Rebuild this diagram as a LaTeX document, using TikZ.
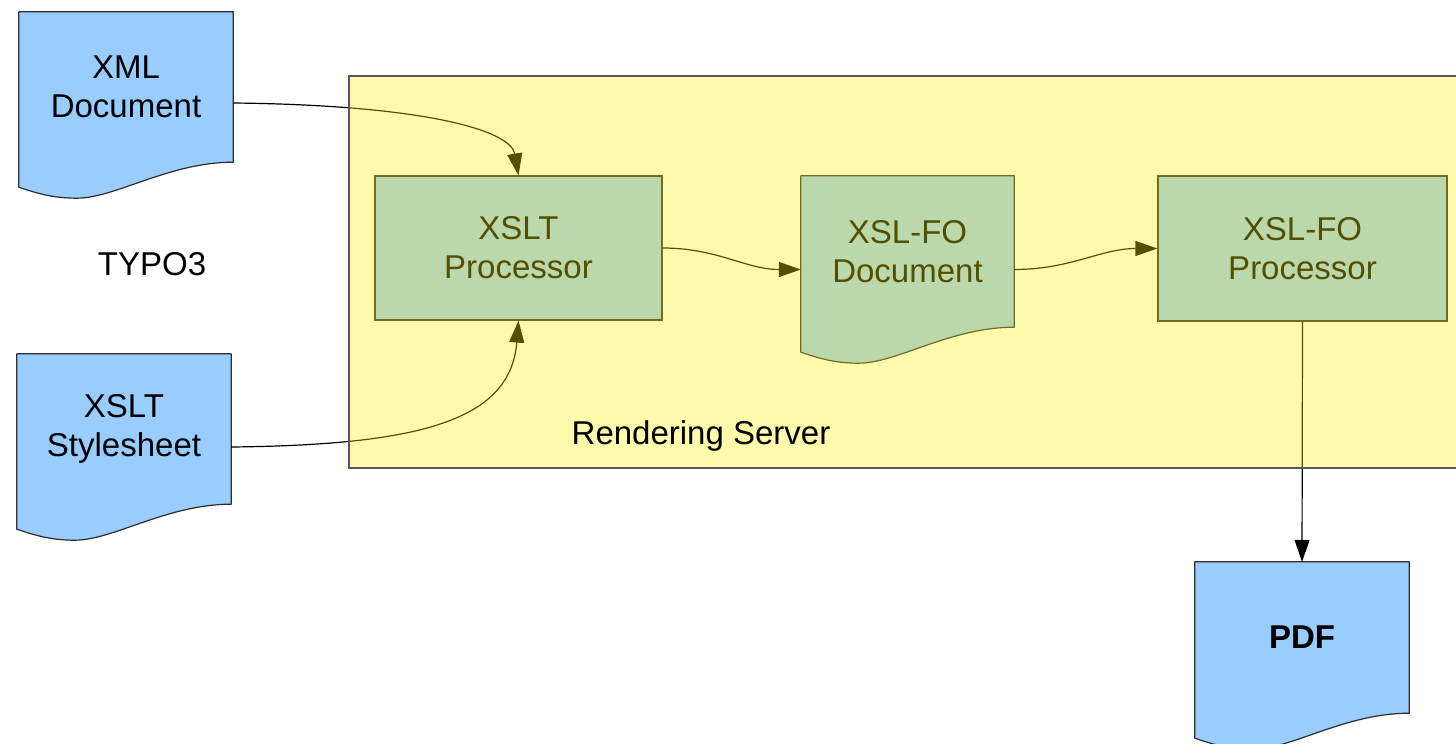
\documentclass[tikz,border=0pt]{standalone}
\usepackage{fontspec}
\setmainfont{Liberation Sans}
\usetikzlibrary{arrows.meta,calc}
\pgfdeclarelayer{docs}
\pgfdeclarelayer{front}
\pgfsetlayers{docs,main,front}
\definecolor{docblue}{RGB}{153,204,255}
\definecolor{edgegray}{RGB}{45,45,45}
\definecolor{servergray}{RGB}{85,85,85}
\tikzset{
  lbl/.style={font=\fontsize{33}{39}\selectfont, align=center, inner sep=0pt, text=black},
  docbody/.style={lbl, rectangle, draw=none},
  docshape/.style={fill=docblue, draw=edgegray, line width=1.2pt, line join=round},
  procbox/.style={lbl, rectangle, fill=docblue, draw=edgegray, line width=1.2pt},
  conn/.style={draw=black, line width=1.2pt, -{Triangle[length=22pt,width=15pt]}},
  serverbox/.style={rectangle, inner sep=0pt, fill=yellow, fill opacity=0.33, draw=servergray, draw opacity=1, line width=1.2pt}
}
\newcommand\docwave[1]{%
  \begin{pgfonlayer}{docs}
  \path[docshape] let \p1=(#1.north west), \p2=(#1.south east), \n1={\x2-\x1} in
    (\x1,\y1) -- (\x2,\y1) -- (\x2,\y2)
    .. controls ({\x2-0.3*\n1},\y2) and ({\x1+0.45*\n1},{\y2-36pt}) .. ({\x1+0.27*\n1},{\y2-36pt})
    .. controls ({\x1+0.15*\n1},{\y2-36pt}) and ({\x1+0.07*\n1},{\y2-30pt}) .. (\x1,{\y2-25pt}) -- cycle;
  \end{pgfonlayer}}
\begin{document}
\begin{tikzpicture}[x=1pt,y=-1pt]
\useasboundingbox (0,0) rectangle (1456,744);
\begin{pgfonlayer}{docs}
  \fill[white] (0,0) rectangle (1456,744);
\end{pgfonlayer}

% documents
\node[docbody, minimum width=214pt, minimum height=150pt] (xml) at (126,87) {XML\\Document};
\docwave{xml}
\node[docbody, minimum width=214pt, minimum height=150pt] (xsl) at (124,429) {XSLT\\Stylesheet};
\docwave{xsl}
\node[docbody, minimum width=213pt, minimum height=151pt] (fodoc) at (907.5,251.5) {XSL-FO\\Document};
\docwave{fodoc}
\node[docbody, minimum width=214pt, minimum height=151pt] (pdf) at (1302,637.5) {\bfseries PDF};
\docwave{pdf}

% processors
\node[procbox, minimum width=287pt, minimum height=144pt] (xsltp) at (518.5,248) {XSLT\\Processor};
\node[procbox, minimum width=289pt, minimum height=145pt] (fop) at (1302.5,248.5) {XSL-FO\\Processor};

\node[lbl] (typo) at (152,264) {TYPO3};

% connectors
\draw[conn] ([yshift=-16pt]xml.east) .. controls +(187,2) and +(-8,-46) .. (xsltp.north);
\draw[conn] ([yshift=-18pt]xsl.east) .. controls +(189,-2) and +(-8,100) .. (xsltp.south);
\draw[conn] (xsltp.east) to[out=0,in=180] ([yshift=-18pt]fodoc.west);
\draw[conn] ([yshift=-18pt]fodoc.east) to[out=0,in=180] (fop.west);
\draw[conn] (fop.south) -- (pdf.north);

% rendering server overlay
\begin{pgfonlayer}{front}
  \node[serverbox, minimum width=1121pt, minimum height=392pt] (server) at (909.5,272) {};
  \node[lbl] (serverlbl) at (701,436) {Rendering Server};
\end{pgfonlayer}
\end{tikzpicture}
\end{document}
